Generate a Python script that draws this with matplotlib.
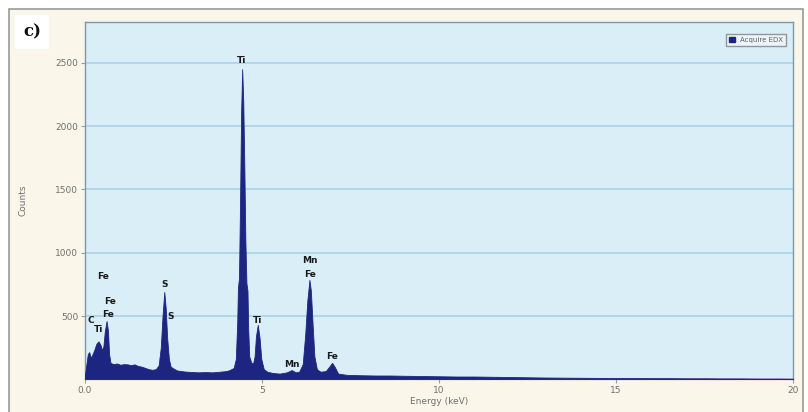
import matplotlib.pyplot as plt
from matplotlib.patches import Patch, Rectangle

# spectrum points (keV, counts)
energy_kev = [
    0.00, 0.04, 0.08, 0.12, 0.16, 0.20, 0.26, 0.32, 0.38, 0.44, 0.48, 0.52,
    0.56, 0.61, 0.65, 0.68, 0.72, 0.80, 0.90, 1.00, 1.10, 1.20, 1.30, 1.40,
    1.50, 1.60, 1.70, 1.80, 1.90, 2.00, 2.08, 2.14, 2.19, 2.24, 2.28, 2.32,
    2.37, 2.42, 2.50, 2.60, 2.80, 3.00, 3.20, 3.40, 3.60, 3.80, 4.00, 4.10,
    4.20, 4.26, 4.30, 4.32, 4.35, 4.38, 4.41, 4.44, 4.47, 4.50, 4.53, 4.56,
    4.59, 4.61, 4.64, 4.70, 4.75, 4.79, 4.83, 4.88, 4.93, 4.98, 5.05, 5.15,
    5.30, 5.50, 5.70, 5.84, 5.95, 6.05, 6.15, 6.22, 6.28, 6.34, 6.38, 6.43,
    6.48, 6.55, 6.65, 6.80, 6.90, 6.98, 7.06, 7.15, 7.40, 7.80, 8.20, 8.60,
    9.00, 9.50, 10.0, 10.5, 11.0, 11.5, 12.0, 12.5, 13.0, 13.5, 14.0, 14.5,
    15.0, 15.5, 16.0, 16.5, 17.0, 17.5, 18.0, 18.5, 19.0, 19.5, 20.0,
]
counts = [
    35, 120, 200, 215, 170, 190, 230, 280, 300, 270, 230, 260,
    380, 460, 380, 200, 130, 120, 125, 115, 120, 118, 112, 118,
    105, 100, 90, 80, 75, 80, 110, 250, 500, 690, 560, 330,
    160, 100, 85, 70, 62, 58, 55, 57, 55, 60, 65, 75,
    90, 160, 450, 720, 800, 1400, 2100, 2450, 2200, 1700, 1100, 760,
    700, 400, 180, 130, 125, 180, 340, 430, 330, 160, 80, 60,
    50, 45, 55, 73, 55, 60, 120, 350, 620, 785, 700, 430,
    180, 80, 60, 65, 100, 130, 95, 45, 35, 32, 30, 30,
    28, 26, 24, 22, 22, 20, 18, 16, 14, 13, 12, 11,
    10, 10, 9, 9, 8, 8, 7, 7, 6, 6, 5,
]

# element labels: text, energy, counts
peak_labels = ["C", "Ti", "Fe", "Fe", "Fe", "S", "S", "Ti", "Ti", "Mn", "Mn", "Fe", "Fe"]
label_energy = [0.16, 0.39, 0.52, 0.70, 0.66, 2.24, 2.42, 4.43, 4.88, 5.84, 6.36, 6.36, 6.98]
label_counts = [468, 390, 810, 613, 508, 745, 495, 2522, 468, 113, 942, 824, 178]

x_ticks = [0, 5, 10, 15, 20]
x_tick_labels = ["0.0", "5", "10", "15", "20"]
y_ticks = [500, 1000, 1500, 2000, 2500]

W, H = 808, 412
fig = plt.figure(figsize=(W / 100, H / 100), dpi=100, facecolor="white")

# panel frame behind everything
fig.patches.append(Rectangle((9 / W, -0.01), 794 / W, 1.01 - 9 / H, transform=fig.transFigure,
                             facecolor="#faf7ea", edgecolor="#9a9a9a", linewidth=1.2, zorder=-5))

ax = fig.add_axes([85 / W, 1 - 379.3 / H, 708 / W, (379.3 - 21.7) / H])
ax.set_zorder(2)
ax.set_facecolor("#d9eef7")
ax.fill_between(energy_kev, counts, 0, color="#1c2580", linewidth=0.6, edgecolor="#1c2580", zorder=3)

ax.set_xlim(0, 20)
ax.set_ylim(0, 2825)
ax.set_xticks(x_ticks)
ax.set_xticklabels(x_tick_labels)
ax.set_yticks(y_ticks)
ax.grid(axis="y", color="#a9d3e6", linewidth=1.2, zorder=1)
ax.set_axisbelow(True)
ax.tick_params(labelsize=6.5, labelcolor="#707070", color="#8aa0ad", length=3, width=0.8, pad=2)
for side in ["top", "left", "right"]:
    ax.spines[side].set_color("#7f97a6")
    ax.spines[side].set_linewidth(1.0)
ax.spines["bottom"].set_color("#d59a9a")
ax.spines["bottom"].set_linewidth(1.0)

ax.set_xlabel("Energy (keV)", fontsize=6.5, color="#707070", labelpad=1)
ax.set_ylabel("Counts", fontsize=6.5, color="#707070", labelpad=20)

for name, e, c in zip(peak_labels, label_energy, label_counts):
    ax.text(e, c, name, fontsize=6.5, fontweight="bold", color="#1a1a1a",
            ha="center", va="center", zorder=4)

leg = ax.legend(handles=[Patch(facecolor="#1c2580", edgecolor="#1c2580", label="Acquire EDX")],
                loc="upper right", fontsize=5, frameon=True, fancybox=False,
                handlelength=0.8, handleheight=0.8, borderpad=0.4, labelcolor="#606060",
                bbox_to_anchor=(0.995, 0.975))
leg.get_frame().set_edgecolor("#7f7f7f")
leg.get_frame().set_facecolor("#f2f7fa")
leg.get_frame().set_linewidth(1.0)

fig.text(32 / W, 1 - 32 / H, "c)", fontsize=12, fontweight="bold", family="DejaVu Serif",
         ha="center", va="center", color="#111111", zorder=5,
         bbox=dict(facecolor="white", edgecolor="none", pad=6))

fig.savefig("out.png", dpi=100, facecolor=fig.get_facecolor())
